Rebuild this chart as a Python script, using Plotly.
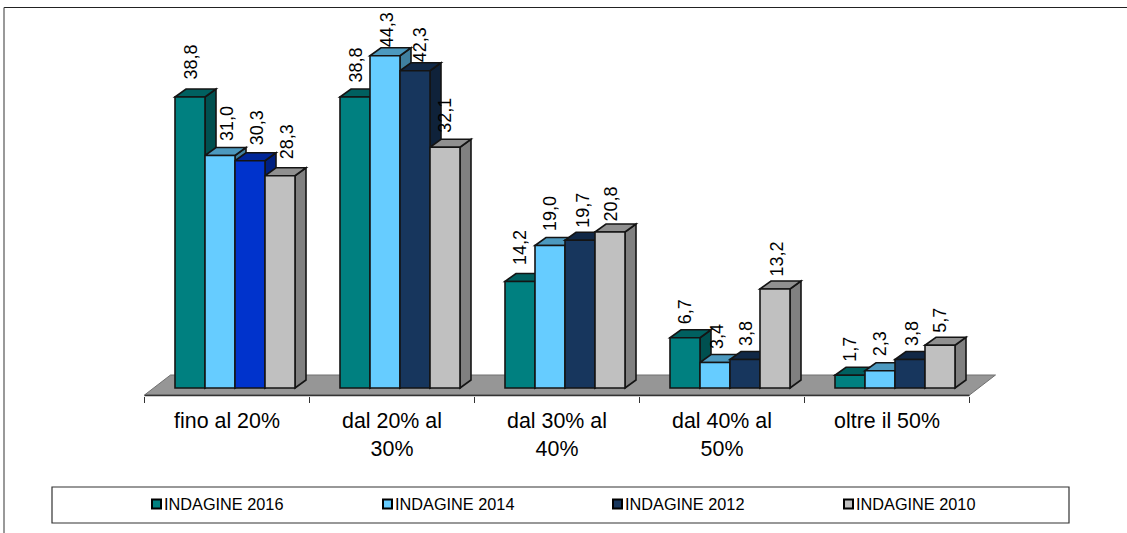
import plotly.graph_objects as go

# Survey results per income band
categories = ["fino al 20%", "dal 20% al<br>30%", "dal 30% al<br>40%", "dal 40% al<br>50%", "oltre il 50%"]
series_names = ["INDAGINE 2016", "INDAGINE 2014", "INDAGINE 2012", "INDAGINE 2010"]
values_2016 = [38.8, 38.8, 14.2, 6.7, 1.7]
values_2014 = [31.0, 44.3, 19.0, 3.4, 2.3]
values_2012 = [30.3, 42.3, 19.7, 3.8, 3.8]
values_2010 = [28.3, 32.1, 20.8, 13.2, 5.7]
all_values = [values_2016, values_2014, values_2012, values_2010]

# Face colours: (front, top, side)
palette = [
    ("#008080", "#006060", "#005050"),
    ("#66CCFF", "#4C99BF", "#4080A0"),
    ("#17365D", "#112846", "#0F223A"),
    ("#C0C0C0", "#909090", "#808080"),
]
first_group_2012 = ("#0033CC", "#002699", "#002080")

# Scale of the drawing
W, H = 1127, 533
PX_PER_CAT = 165.0
PX_PER_UNIT = 7.5
CAT0_PX = 227.0
BASE_PX = 388.0
AXIS_PX = 396.0
BAR_PX = 30.0
CLUSTER_SHIFT_PX = 8.0
DEPTH_X = 11 / PX_PER_CAT
DEPTH_Y = 8 / PX_PER_UNIT
EDGE = "#141414"

# Value-label nudges in pixels, one row per series
label_dx = [[0, 0, 0, 0, 0], [7, 2, 0, 2, 0], [7, 5, 3, 1, 2], [7, 0, 0, 1, 0]]
label_gap = [[17, 14, 16, 13, 13], [14, 8, 14, 13, 14], [15, 8, 12, 13, 13], [16, 14, 10, 12, 12]]

positions = list(range(len(categories)))
shapes = []


def poly(points, fill, line=EDGE, width=1.6):
    path = "M " + " L ".join(f"{x},{y}" for x, y in points) + " Z"
    return dict(type="path", path=path, xref="x", yref="y", layer="below",
                fillcolor=fill, line=dict(color=line, width=width))


# Floor of the 3D plot
floor_low = -7 / PX_PER_UNIT
floor_high = 13 / PX_PER_UNIT
shapes.append(poly([(-0.5, floor_low), (-0.5 + 26 / PX_PER_CAT, floor_high),
                    (4.5 + 26 / PX_PER_CAT, floor_high), (4.5, floor_low)],
                   "#969696", line="#707070", width=1))

fig = go.Figure()
annotations = []
width = BAR_PX / PX_PER_CAT

for s, (name, vals) in enumerate(zip(series_names, all_values)):
    offset = (-2 * BAR_PX + CLUSTER_SHIFT_PX + s * BAR_PX) / PX_PER_CAT
    fronts = []
    for c, v in enumerate(vals):
        front, top, side = palette[s]
        if s == 2 and c == 0:
            front, top, side = first_group_2012
        fronts.append(front)
        x0 = c + offset
        x1 = x0 + width
        shapes.append(poly([(x1, 0), (x1 + DEPTH_X, DEPTH_Y), (x1 + DEPTH_X, v + DEPTH_Y), (x1, v)], side))
        shapes.append(poly([(x0, v), (x0 + DEPTH_X, v + DEPTH_Y), (x1 + DEPTH_X, v + DEPTH_Y), (x1, v)], top))
        annotations.append(dict(
            x=x0 + width / 2, y=v, xref="x", yref="y", text=f"{v:.1f}".replace(".", ","),
            textangle=-90, showarrow=False, yanchor="bottom", xanchor="center",
            xshift=label_dx[s][c], yshift=label_gap[s][c] - 2,
            font=dict(family="Liberation Sans", size=18, color="#000000"),
        ))
    fig.add_trace(go.Bar(
        x=positions, y=vals, name=name, width=width, offset=offset,
        marker=dict(color=fronts, line=dict(color=EDGE, width=1.6)),
        showlegend=False,
    ))

# Outer frame of the chart area
shapes.append(dict(type="line", xref="paper", yref="paper", x0=4 / W, x1=1, y0=1 - 7.5 / H, y1=1 - 7.5 / H,
                   line=dict(color="#222222", width=1.2)))
shapes.append(dict(type="line", xref="paper", yref="paper", x0=4 / W, x1=4 / W, y0=0, y1=1 - 7.5 / H,
                   line=dict(color="#555555", width=1.2)))

# Legend box drawn by hand so its keys sit right against their text
box_l, box_r, box_t, box_b = 52, 1069, 487, 523
shapes.append(dict(type="rect", xref="paper", yref="paper", x0=box_l / W, x1=box_r / W,
                   y0=1 - box_b / H, y1=1 - box_t / H, line=dict(color="#333333", width=1.2), fillcolor="white"))
for s, (name, key_x) in enumerate(zip(series_names, [152, 383, 613, 844])):
    shapes.append(dict(type="rect", xref="paper", yref="paper", x0=key_x / W, x1=(key_x + 9) / W,
                       y0=1 - 508.5 / H, y1=1 - 499.5 / H, fillcolor=palette[s][0],
                       line=dict(color="#000000", width=2)))
    annotations.append(dict(x=(key_x + 10) / W, y=1 - 503.5 / H, xref="paper", yref="paper", text=name,
                            showarrow=False, xanchor="left", yanchor="middle",
                            font=dict(family="Liberation Sans", size=16.3, color="#000000")))

fig.update_layout(
    width=W, height=H, autosize=False,
    margin=dict(l=0, r=0, t=0, b=0),
    paper_bgcolor="white", plot_bgcolor="white",
    barmode="overlay", showlegend=False,
    shapes=shapes, annotations=annotations,
    xaxis=dict(
        range=[-CAT0_PX / PX_PER_CAT, (W - CAT0_PX) / PX_PER_CAT],
        domain=[0, 1], showgrid=False, zeroline=False, showline=False,
        tickmode="array", tickvals=positions, ticktext=categories, ticks="",
        ticklabelstandoff=10,
        tickfont=dict(family="Liberation Sans", size=21.4, color="#000000"),
        minor=dict(tickmode="array", tickvals=[-0.5, 0.5, 1.5, 2.5, 3.5, 4.5], ticks="outside",
                   ticklen=6, tickwidth=1, tickcolor="#333333", showgrid=False),
    ),
    yaxis=dict(
        range=[(BASE_PX - AXIS_PX) / PX_PER_UNIT, BASE_PX / PX_PER_UNIT],
        domain=[(H - AXIS_PX) / H, 1], visible=False,
    ),
)

# Axis line runs only between the outer tick marks
fig.add_shape(type="line", xref="x", yref="paper", x0=-0.5, x1=4.5, y0=(H - 395.5) / H, y1=(H - 395.5) / H,
              line=dict(color="#333333", width=1.6))

fig.write_html("out.html")
